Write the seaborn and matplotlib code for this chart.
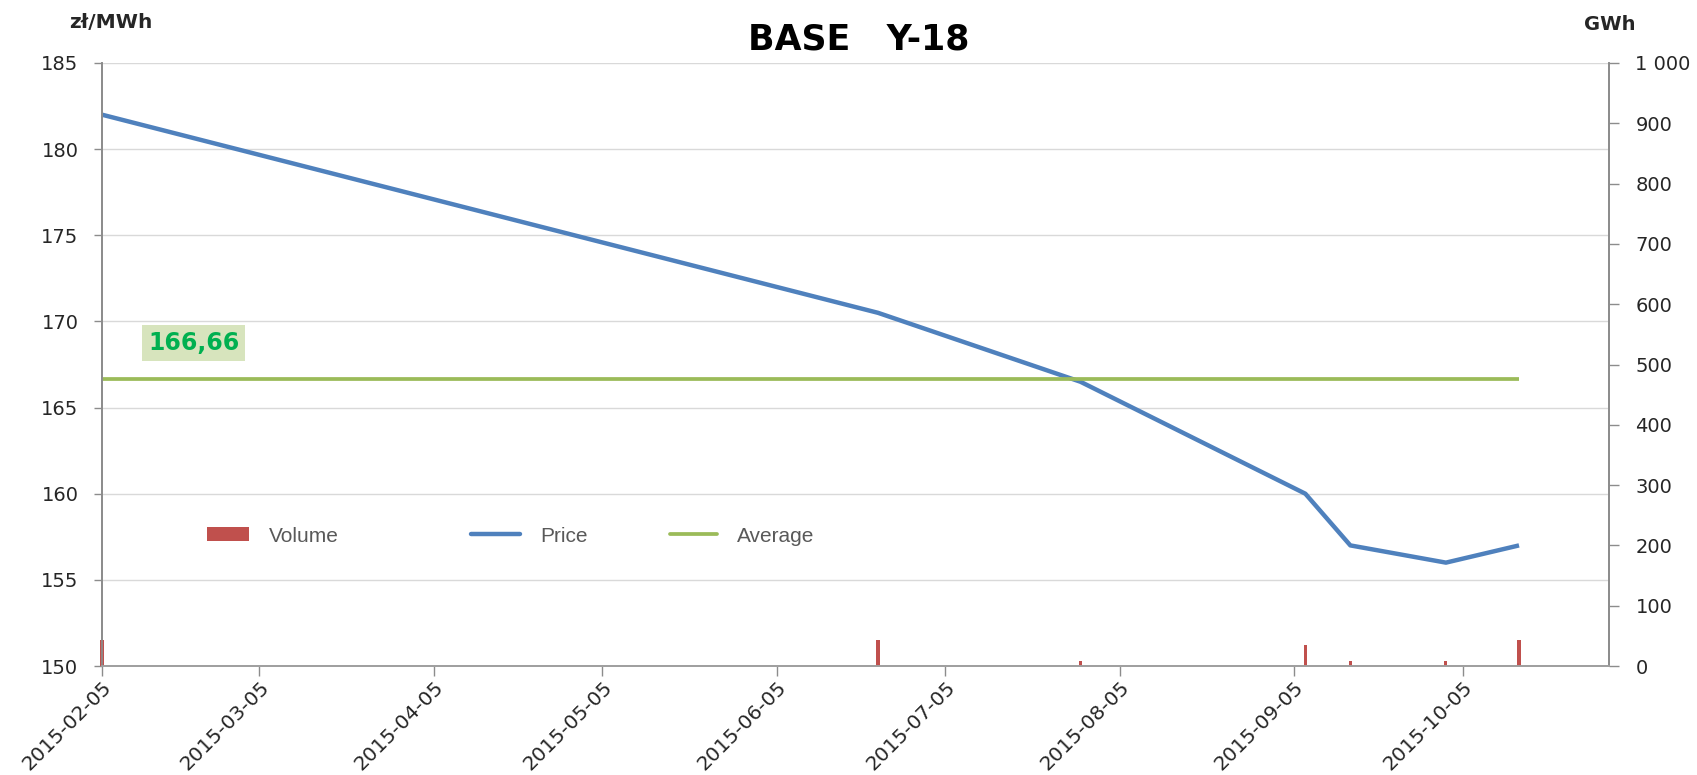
import matplotlib
matplotlib.use("Agg")
import matplotlib.pyplot as plt
import matplotlib.dates as mdates
from matplotlib.ticker import FuncFormatter, MultipleLocator
from matplotlib.patches import Patch
from matplotlib.lines import Line2D
import pandas as pd
import seaborn as sns

# Transactions for the BASE Y-18 contract
trade_dates = ["2015-02-05", "2015-06-23", "2015-07-29", "2015-09-07",
               "2015-09-15", "2015-10-02", "2015-10-15"]
price = [182.0, 170.5, 166.5, 160.0, 157.0, 156.0, 157.0]      # zł/MWh
volume = [43.8, 43.8, 8.76, 35.04, 8.76, 8.76, 43.8]           # GWh
average_price = 166.66
average_label = "166,66"

tick_dates = ["2015-02-05", "2015-03-05", "2015-04-05", "2015-05-05", "2015-06-05",
              "2015-07-05", "2015-08-05", "2015-09-05", "2015-10-05"]
x_start, x_end = "2015-02-05", "2015-10-31"

title = "BASE   Y-18"
left_unit = "zł/MWh"
right_unit = "GWh"
series_names = ["Volume", "Price", "Average"]

BLUE = "#4F81BD"
GREEN = "#9BBB59"
RED = "#C0504D"
GRID = "#D9D9D9"
AXIS = "#8C8C8C"
TEXT = "#262626"

sns.set_theme(style="white")
plt.rcParams["font.family"] = ["DejaVu Sans"]

W, H = 1697, 775
fig = plt.figure(figsize=(W / 100, H / 100), dpi=100)
L, R, T, B = 102, 1609, 63, 666
ax1 = fig.add_axes([L / W, 1 - B / H, (R - L) / W, (B - T) / H])
ax2 = ax1.twinx()

df = pd.DataFrame({"date": pd.to_datetime(trade_dates), "price": price, "volume": volume})
avg_df = pd.DataFrame({"date": [df["date"].iloc[0], df["date"].iloc[-1]],
                       "avg": [average_price, average_price]})

# volume bars on the secondary axis
ax2.bar(df["date"], df["volume"], width=0.55, color=RED, linewidth=0, clip_on=False)

# price and average on the primary axis
sns.lineplot(data=df, x="date", y="price", ax=ax1, color=BLUE, linewidth=3.2,
             solid_capstyle="butt", legend=False)
sns.lineplot(data=avg_df, x="date", y="avg", ax=ax1, color=GREEN, linewidth=2.7,
             solid_capstyle="butt", legend=False)

ax1.set_xlim(pd.Timestamp(x_start), pd.Timestamp(x_end))
ax1.set_ylim(150, 185)
ax2.set_ylim(0, 1000)
ax1.yaxis.set_major_locator(MultipleLocator(5))
ax2.yaxis.set_major_locator(MultipleLocator(100))
ax2.yaxis.set_major_formatter(FuncFormatter(lambda v, p: f"{int(v):,}".replace(",", " ")))

ticks = pd.to_datetime(tick_dates)
ax1.set_xticks(ticks)
ax1.xaxis.set_major_formatter(mdates.DateFormatter("%Y-%m-%d"))

ax1.grid(axis="y", color=GRID, linewidth=1.0)
ax1.grid(axis="x", visible=False)
ax2.grid(False)
ax1.set_axisbelow(True)
ax1.set_xlabel("")
ax1.set_ylabel("")
ax2.set_ylabel("")

for ax in (ax1, ax2):
    ax.spines["top"].set_visible(False)
    ax.spines["left"].set_color(AXIS)
    ax.spines["right"].set_color(AXIS)
    ax.spines["bottom"].set_color("#A0A0A0")
    ax.spines["bottom"].set_linewidth(1.3)

ax1.tick_params(axis="y", direction="out", length=6, width=1, color=AXIS,
                pad=11, labelsize=14, labelcolor=TEXT, left=True)
ax2.tick_params(axis="y", direction="out", length=7, width=1, color=AXIS,
                pad=12, labelsize=14, labelcolor=TEXT, right=True)
ax1.tick_params(axis="x", direction="out", length=7, width=1, color=AXIS,
                pad=1, labelsize=14.5, labelcolor=TEXT, bottom=True)
for lab in ax1.get_xticklabels():
    lab.set_rotation(45)
    lab.set_ha("right")
    lab.set_va("top")
    lab.set_rotation_mode("anchor")

# average value label above the average line
ax1.annotate(average_label, xy=(df["date"].iloc[0], average_price),
             xytext=(66, 26), textcoords="offset points",
             ha="center", va="center", fontsize=17, fontweight="bold",
             color="#00B050",
             bbox=dict(boxstyle="square,pad=0.25", facecolor="#D7E4BD", edgecolor="none"))

# titles and unit labels
fig.text(859 / W, 1 - 39 / H, title, ha="center", va="center",
         fontsize=25, fontweight="bold", color="black")
fig.text(111 / W, 1 - 22 / H, left_unit, ha="center", va="center",
         fontsize=14.5, fontweight="bold", color=TEXT)
fig.text(1610 / W, 1 - 25 / H, right_unit, ha="center", va="center",
         fontsize=14, fontweight="bold", color=TEXT)

# legend entries laid out in a row inside the plot
handles = [Patch(facecolor=RED, edgecolor="none"),
           Line2D([], [], color=BLUE, linewidth=3.2),
           Line2D([], [], color=GREEN, linewidth=2.7)]
starts = [207, 471, 670]
hlens = [2.0, 2.35, 2.25]
legend_y = 1 - 536 / H
for h, name, x0, hl in zip(handles, series_names, starts, hlens):
    fig.legend([h], [name], loc="center left", bbox_to_anchor=(x0 / W, legend_y),
               frameon=False, handlelength=hl, handleheight=0.68,
               handletextpad=0.95, borderpad=0, borderaxespad=0,
               labelcolor="#595959", prop={"family": "Liberation Sans", "size": 15})

fig.savefig("out.png", dpi=100, facecolor="white")
